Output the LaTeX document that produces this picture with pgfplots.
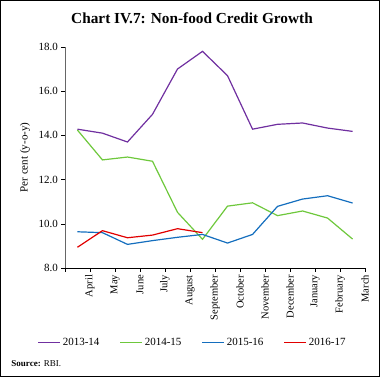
\documentclass[border=0pt]{standalone}
\usepackage{pgfplots}
\pgfplotsset{compat=1.18}
\usepackage{fontspec}
\setmainfont{Liberation Serif}
\definecolor{cPur}{RGB}{112,48,160}
\definecolor{cGrn}{RGB}{110,200,60}
\definecolor{cBlu}{RGB}{20,110,190}
\definecolor{cRed}{RGB}{225,0,0}
\begin{document}
\begin{tikzpicture}[x=1pt,y=1pt]
\begin{axis}[
  at={(0,0)}, anchor=origin,
  scale only axis, width=300pt, height=221pt,
  xmin=0, xmax=12, ymin=8, ymax=18,
  axis x line*=bottom, axis y line*=left,
  axis line style={-, line width=0.7pt},
  x axis line style={black},
  y axis line style={black!60},
  xtick={0,...,12},
  xticklabels={,April,May,June,July,August,September,October,November,December,January,February,March},
  xticklabel style={rotate=90, anchor=east, font=\fontsize{10.5}{11}\selectfont},
  ytick={8,10,...,18},
  yticklabel style={font=\fontsize{11}{12}\selectfont, /pgf/number format/fixed, /pgf/number format/fixed zerofill, /pgf/number format/precision=1},
  /pgf/number format/assume math mode=true,
  tick align=outside, tick style={black, line width=0.6pt}, major tick length=3.5pt,
  ylabel={Per cent (y-o-y)}, ylabel style={font=\fontsize{11}{12}\selectfont, at={(axis description cs:-0.133,0.5)}, anchor=center},
  legend style={at={(axis cs:5.1,8)}, anchor=north, yshift=-66pt, draw=none, legend columns=4, font=\fontsize{11}{12}\selectfont, /tikz/every even column/.append style={column sep=18pt}},
  legend image post style={line width=1.3pt},
  legend image code/.code={\draw[#1] (0pt,0pt) -- (22pt,0pt);},
  every axis plot/.append style={line width=1.2pt},
]
\addplot[cPur] coordinates {(0.5,14.28) (1.5,14.1) (2.5,13.7) (3.5,14.95) (4.5,17.0) (5.5,17.8) (6.5,16.7) (7.5,14.28) (8.5,14.5) (9.5,14.56) (10.5,14.33) (11.5,14.18)};
\addlegendentry{2013-14}
\addplot[cGrn] coordinates {(0.5,14.24) (1.5,12.89) (2.5,13.02) (3.5,12.83) (4.5,10.52) (5.5,9.30) (6.5,10.8) (7.5,10.95) (8.5,10.37) (9.5,10.58) (10.5,10.26) (11.5,9.31)};
\addlegendentry{2014-15}
\addplot[cBlu] coordinates {(0.5,9.64) (1.5,9.6) (2.5,9.07) (3.5,9.24) (4.5,9.39) (5.5,9.52) (6.5,9.13) (7.5,9.52) (8.5,10.79) (9.5,11.12) (10.5,11.27) (11.5,10.94)};
\addlegendentry{2015-16}
\addplot[cRed] coordinates {(0.5,8.94) (1.5,9.69) (2.5,9.37) (3.5,9.49) (4.5,9.78) (5.5,9.6)};
\addlegendentry{2016-17}
\end{axis}
\node[font=\bfseries\fontsize{15.3}{17}\selectfont] at (127,250) {Chart IV.7: Non-food Credit Growth};
\node[anchor=west, font=\fontsize{9}{10}\selectfont] at (-57,-95) {\textbf{Source:} RBI.};
\draw[line width=0.8pt] (-64.5,-108.5) rectangle (314.5,267.5);
\end{tikzpicture}
\end{document}
